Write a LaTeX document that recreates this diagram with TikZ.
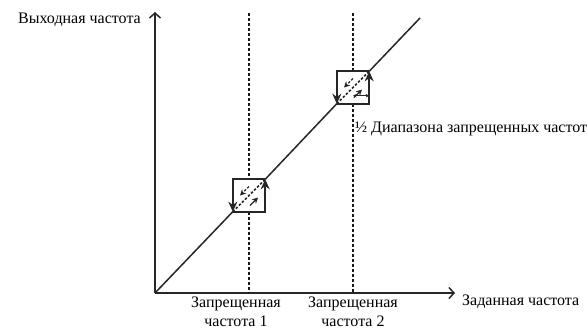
\documentclass[tikz,border=0pt]{standalone}
\usepackage{fontspec}
\setmainfont{Liberation Serif}
\usetikzlibrary{arrows.meta}
\begin{document}
\begin{tikzpicture}[x=1pt,y=-1pt,
  axis/.style={line width=1.5pt,draw=black!85,-{Straight Barb[length=5pt,width=11pt,line width=1.5pt]}},
  mainline/.style={line width=1.5pt,draw=black!85},
  vdash/.style={line width=1.8pt,draw=black!90,dash pattern=on 3pt off 2pt},
  ddash/.style={line width=1.5pt,draw=black!85,dash pattern=on 2.5pt off 1.8pt},
  boxedge/.style={line width=1.7pt,draw=black!85,-{Stealth[length=10pt,width=9pt]}},
  small/.style={line width=1.3pt,draw=black!85,-{Stealth[length=6pt,width=6pt]}},
  winbox/.style={minimum size=32pt,inner sep=0pt,draw=none},
  lbl/.style={font=\fontsize{16}{18.5}\selectfont,inner sep=0pt,text=black},
  lbl2/.style={lbl,align=center}]
\useasboundingbox (0,0) rectangle (587,330);
\fill[white] (0,0) rectangle (587,330);
\coordinate (O) at (155,293);
\coordinate (Ytip) at (155,12);
\coordinate (Xtip) at (455,293);
\coordinate (End) at (420,18);
\coordinate (top1) at (249,13);
\coordinate (bot1) at (249,293);
\coordinate (top2) at (353,13);
\coordinate (bot2) at (353,293);
\node[winbox] (b1) at (249,195.5) {};
\node[winbox] (b2) at (353,87.5) {};
% axes
\draw[axis] (O) -- (Ytip);
\draw[axis] (O) -- (Xtip);
% vertical dashed lines
\draw[vdash] (top1) -- (b1.north);
\draw[vdash] (b1.south) -- (bot1);
\draw[vdash] (top2) -- (b2.north);
\draw[vdash] (b2.south) -- (bot2);
% main characteristic
\draw[mainline] (O) -- (b1.south west);
\draw[ddash] (b1.south west) -- (b1.north east);
\draw[mainline] (b1.north east) -- (b2.south west);
\draw[ddash] (b2.south west) -- (b2.north east);
\draw[mainline] (b2.north east) -- (End);
% boxes
\foreach \b in {b1,b2}{
  \draw[boxedge] (\b.north east) -- (\b.north west) -- (\b.south west);
  \draw[boxedge] (\b.south west) -- (\b.south east) -- (\b.north east);
  \draw[small,dash pattern=on 2.5pt off 1.6pt] ([shift={(0,-9)}]\b.center) -- ([shift={(-9,0)}]\b.center);
  \draw[small] ([shift={(1,10)}]\b.center) -- ([shift={(9,2)}]\b.center);
}
% half-band marker
\coordinate (tk) at ([yshift=15]b2.south east);
\draw[line width=1.4pt,draw=black!85] (b2.south east) -- (tk);
\coordinate (ha) at ([yshift=8]b2.south);
\coordinate (hb) at ([yshift=8]b2.south east);
\draw[line width=0.7pt,draw=black!85,{Stealth[length=3.5pt,width=3.5pt]}-{Stealth[length=3.5pt,width=3.5pt]}] (ha) -- (hb);
% labels
\node[lbl,anchor=east] (ylab) at (141,20) {Выходная частота};
\node[lbl,anchor=west] (xlab) at (462,302) {Заданная частота};
\node[lbl2] (f1) at (236,312) {Запрещенная\\частота 1};
\node[lbl2] (f2) at (353,312) {Запрещенная\\частота 2};
\node[lbl,anchor=west] (band) at (355,129) {½ Диапазона запрещенных частот};
\end{tikzpicture}
\end{document}
